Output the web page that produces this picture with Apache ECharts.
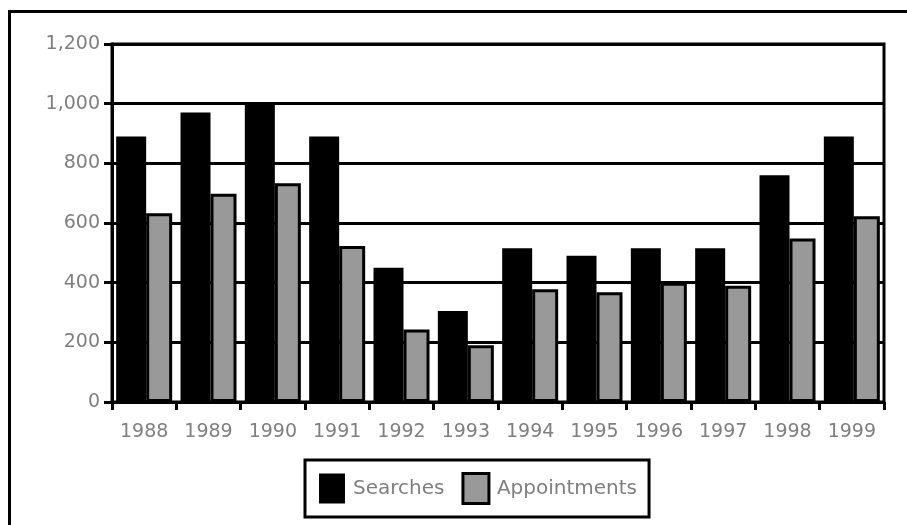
<!DOCTYPE html>
<html>
<head>
<meta charset="utf-8">
<style>
  html, body { margin: 0; padding: 0; background: #fff; }
  #chart { width: 907px; height: 525px; }
</style>
<script src="https://cdn.jsdelivr.net/npm/echarts@6/dist/echarts.min.js"></script>
</head>
<body>
<div id="chart"></div>
<script>
// Yearly counts of searches and appointments
const years = ['1988', '1989', '1990', '1991', '1992', '1993', '1994', '1995', '1996', '1997', '1998', '1999'];
const searches = [890, 970, 1000, 890, 450, 305, 515, 490, 515, 515, 760, 890];
const appointments = [633, 698, 733, 523, 243, 190, 378, 368, 400, 390, 548, 623];
const yTicks = [0, 200, 400, 600, 800, 1000, 1200];

const chart = echarts.init(document.getElementById('chart'), null, { renderer: 'canvas' });

const labelFont = {
  fontFamily: 'DejaVu Sans',
  fontSize: 19,
  color: '#7f7f7f'
};

chart.setOption({
  animation: false,
  backgroundColor: '#fff',
  graphic: [{
    type: 'rect',
    silent: true,
    shape: { x: 9.5, y: 11.5, width: 1000, height: 1000 },
    style: { fill: 'none', stroke: '#000', lineWidth: 3 }
  }],
  grid: {
    left: 112, right: 23, top: 44, bottom: 123,
    show: true,
    borderColor: '#000',
    borderWidth: 3,
    backgroundColor: 'transparent'
  },
  legend: {
    left: 305,
    top: 460,
    padding: [12, 12, 12, 14],
    borderColor: '#000',
    borderWidth: 3,
    itemWidth: 26,
    itemHeight: 30,
    itemGap: 17,
    textStyle: {
      fontFamily: 'DejaVu Sans',
      fontSize: 20,
      color: '#7f7f7f',
      padding: [0, 0, 0, 3]
    },
    data: [
      { name: 'Searches', icon: 'rect', itemStyle: { color: '#000', borderWidth: 0 } },
      { name: 'Appointments', icon: 'rect', itemStyle: { color: '#999', borderColor: '#000', borderWidth: 3 } }
    ]
  },
  xAxis: {
    type: 'category',
    data: years,
    boundaryGap: true,
    axisLine: { show: true, lineStyle: { color: '#000', width: 3 } },
    axisTick: { show: true, length: 8, lineStyle: { color: '#000', width: 3 } },
    axisLabel: Object.assign({ margin: 21, interval: 0 }, labelFont),
    splitLine: { show: false }
  },
  yAxis: {
    type: 'value',
    min: yTicks[0],
    max: yTicks[yTicks.length - 1],
    interval: yTicks[1] - yTicks[0],
    axisLine: { show: true, lineStyle: { color: '#000', width: 3 } },
    axisTick: { show: true, length: 8, lineStyle: { color: '#000', width: 3 } },
    axisLabel: Object.assign({
      margin: 12,
      formatter: v => v.toLocaleString('en-US')
    }, labelFont),
    splitLine: { show: true, lineStyle: { color: '#000', width: 3 } }
  },
  series: [
    {
      name: 'Searches',
      type: 'bar',
      data: searches,
      barWidth: 30,
      barGap: '0%',
      itemStyle: { color: '#000' }
    },
    {
      name: 'Appointments',
      type: 'bar',
      data: appointments,
      barWidth: 26,
      barGap: '0%',
      itemStyle: { color: '#999', borderColor: '#000', borderWidth: 3 }
    }
  ]
});
</script>
</body>
</html>
